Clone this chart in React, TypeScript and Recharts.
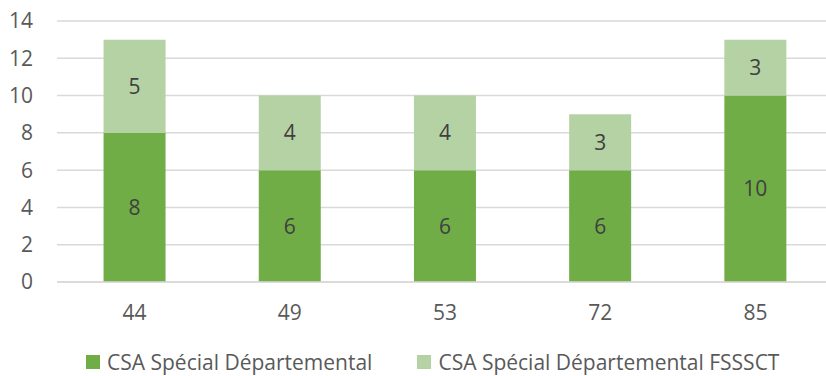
import { BarChart, Bar, XAxis, YAxis, CartesianGrid, Legend, LabelList } from 'recharts'

const departements = ['44', '49', '53', '72', '85']
const csaSpecial = [8, 6, 6, 6, 10]
const csaFsssct = [5, 4, 4, 3, 3]
const yTicks = [0, 2, 4, 6, 8, 10, 12, 14]

const seriesNames = ['CSA Spécial Départemental', 'CSA Spécial Départemental FSSSCT']
const DARK = '#70AD47'
const LIGHT = '#B4D2A4'
const FONT = '"Open Sans", sans-serif'

const data = departements.map((d, i) => ({ dep: d, special: csaSpecial[i], fsssct: csaFsssct[i] }))

const renderLegend = () => (
  <div style={{ display: 'flex', alignItems: 'center', paddingLeft: 69, height: 54, fontFamily: FONT, fontSize: 21, color: '#595959' }}>
    {[DARK, LIGHT].map((c, i) => (
      <div key={i} style={{ display: 'flex', alignItems: 'center', marginRight: i === 0 ? 45 : 0, marginTop: 26 }}>
        <span style={{ width: 14, height: 14, background: c, display: 'inline-block', marginRight: 7 }} />
        <span>{seriesNames[i]}</span>
      </div>
    ))}
  </div>
)

export default function App() {
  return (
    <div style={{ position: 'absolute', left: 0, top: 0, width: 826, height: 376, overflow: 'hidden', background: '#fff' }}>
      <BarChart width={840} height={376} data={data} margin={{ top: 21, right: 7, left: 17, bottom: 0 }} barCategoryGap="30%">
        <CartesianGrid vertical={false} stroke="#D9D9D9" strokeWidth={1.5} />
        <XAxis
          dataKey="dep"
          height={40}
          axisLine={{ stroke: '#D9D9D9', strokeWidth: 1.5 }}
          tickLine={false}
          tickMargin={17}
          tick={{ fontSize: 21, fill: '#595959', fontFamily: FONT }}
        />
        <YAxis
          width={40}
          domain={[0, 14]}
          ticks={yTicks}
          axisLine={false}
          tickLine={false}
          tickMargin={18}
          tick={{ fontSize: 21, fill: '#595959', fontFamily: FONT }}
        />
        <Legend verticalAlign="bottom" height={54} content={renderLegend} />
        <Bar dataKey="special" stackId="a" fill={DARK} isAnimationActive={false}>
          <LabelList dataKey="special" position="center" fill="#404040" fontSize={21} fontFamily={FONT} />
        </Bar>
        <Bar dataKey="fsssct" stackId="a" fill={LIGHT} isAnimationActive={false}>
          <LabelList dataKey="fsssct" position="center" fill="#404040" fontSize={21} fontFamily={FONT} />
        </Bar>
      </BarChart>
    </div>
  )
}
